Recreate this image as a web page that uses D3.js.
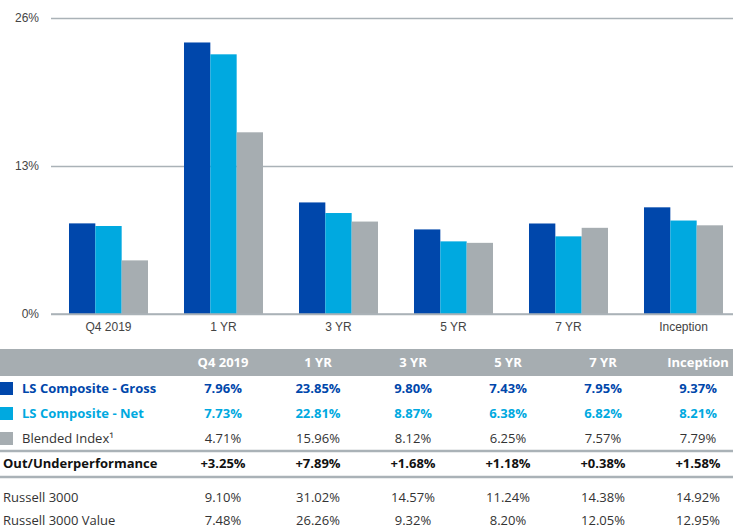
<!DOCTYPE html>
<html>
<head>
<meta charset="utf-8">
<script src="https://cdn.jsdelivr.net/npm/d3@7"></script>
<style>
  body { margin: 0; background: #fff; }
  svg { display: block; font-family: "Open Sans", "Noto Sans", sans-serif; }
</style>
</head>
<body>
<svg id="chart" width="733" height="529"></svg>
<script>
// periods shown in chart and table
var periods = ['Q4 2019', '1 YR', '3 YR', '5 YR', '7 YR', 'Inception']
var yTicks = [0, 13, 26]

var gross = [7.96, 23.85, 9.80, 7.43, 7.95, 9.37]
var net = [7.73, 22.81, 8.87, 6.38, 6.82, 8.21]
var blended = [4.71, 15.96, 8.12, 6.25, 7.57, 7.79]
var outUnder = ['+3.25%', '+7.89%', '+1.68%', '+1.18%', '+0.38%', '+1.58%']
var russell3000 = [9.10, 31.02, 14.57, 11.24, 14.38, 14.92]
var russell3000Value = [7.48, 26.26, 9.32, 8.20, 12.05, 12.95]

var seriesNames = ['LS Composite - Gross', 'LS Composite - Net', 'Blended Index\u00b9']
var colors = ['#0047ab', '#00a9e0', '#a6adb1']
var grid = '#aab2b7'

function pct(v) { return v.toFixed(2) + '%' }

var svg = d3.select('#chart')

/* ---- bar chart ---- */
var y = d3.scaleLinear().domain([0, 26]).range([314, 18])

var x0 = d3.scaleBand()
    .domain(periods)
    .range([51, 741])
    .paddingInner(0.313)
    .paddingOuter(0.1565)

var x1 = d3.scaleBand()
    .domain([0, 1, 2])
    .range([0, x0.bandwidth()])

// gridlines + tick labels
var yAxis = d3.axisLeft(y)
    .tickValues(yTicks)
    .tickSize(-700)
    .tickFormat(function (d) { return d + '%' })

var gy = svg.append('g')
    .attr('transform', 'translate(51,0)')
    .call(yAxis)
gy.select('.domain').remove()
gy.selectAll('line').attr('stroke', grid).attr('stroke-width', 1.5)
gy.selectAll('text')
    .attr('x', -12)
    .attr('fill', '#444')
    .style('font-size', '12px')

var data = periods.map(function (p, i) {
    return { name: p, vals: [gross[i], net[i], blended[i]] }
})

var groups = svg.selectAll('.grp')
    .data(data)
    .enter()
    .append('g')
    .attr('class', 'grp')
    .attr('transform', function (d) { return 'translate(' + x0(d.name) + ',0)' })

groups.selectAll('rect')
    .data(function (d) { return d.vals })
    .enter()
    .append('rect')
    .attr('x', function (d, i) { return x1(i) })
    .attr('width', x1.bandwidth())
    .attr('y', function (d) { return y(d) })
    .attr('height', function (d) { return y(0) - y(d) })
    .attr('fill', function (d, i) { return colors[i] })

// baseline on top of bars
svg.append('line')
    .attr('x1', 51).attr('x2', 733)
    .attr('y1', y(0)).attr('y2', y(0))
    .attr('stroke', grid).attr('stroke-width', 1.5)

// category labels
var xAxis = d3.axisBottom(x0).tickSize(0)
var gx = svg.append('g')
    .attr('transform', 'translate(0,' + y(0) + ')')
    .call(xAxis)
gx.select('.domain').remove()
gx.selectAll('text')
    .attr('dy', '1.2em')
    .attr('fill', '#444')
    .style('font-size', '12px')

/* ---- table ---- */
var colX = d3.scalePoint()
    .domain(periods)
    .range([223, 698])

svg.append('rect')
    .attr('x', 0).attr('y', 349)
    .attr('width', 733).attr('height', 27)
    .attr('fill', '#a6adb1')

svg.selectAll('.hdr')
    .data(periods)
    .enter()
    .append('text')
    .attr('class', 'hdr')
    .attr('x', function (d) { return colX(d) })
    .attr('y', 367)
    .attr('text-anchor', 'middle')
    .attr('fill', '#fff')
    .style('font-size', '13px')
    .style('font-weight', 'bold')
    .text(function (d) { return d })

var rows = [
    { label: seriesNames[0], vals: gross.map(pct), y: 393, color: colors[0], bold: true, swatch: colors[0] },
    { label: seriesNames[1], vals: net.map(pct), y: 418, color: colors[1], bold: true, swatch: colors[1] },
    { label: seriesNames[2], vals: blended.map(pct), y: 443, color: '#333', bold: false, swatch: colors[2] },
    { label: 'Out/Underperformance', vals: outUnder, y: 468, color: '#111', bold: true },
    { label: 'Russell 3000', vals: russell3000.map(pct), y: 502, color: '#333', bold: false },
    { label: 'Russell 3000 Value', vals: russell3000Value.map(pct), y: 525, color: '#333', bold: false }
]

rows.forEach(function (r) {
    var g = svg.append('g')
    if (r.swatch) {
        g.append('rect')
            .attr('x', 0).attr('y', r.y - 11)
            .attr('width', 13).attr('height', 13)
            .attr('fill', r.swatch)
    }
    g.append('text')
        .attr('x', r.swatch ? 22 : 3)
        .attr('y', r.y)
        .attr('fill', r.color)
        .style('font-size', '13px')
        .style('font-weight', r.bold ? 'bold' : 'normal')
        .text(r.label)
    g.selectAll('.v')
        .data(r.vals)
        .enter()
        .append('text')
        .attr('x', function (d, i) { return colX(periods[i]) })
        .attr('y', r.y)
        .attr('text-anchor', 'middle')
        .attr('fill', r.color)
        .style('font-size', '13px')
        .style('font-weight', r.bold ? 'bold' : 'normal')
        .text(function (d) { return d })
})

// separators around out/underperformance row
svg.selectAll('.sep')
    .data([451, 477])
    .enter()
    .append('line')
    .attr('x1', 0).attr('x2', 733)
    .attr('y1', function (d) { return d }).attr('y2', function (d) { return d })
    .attr('stroke', grid).attr('stroke-width', 2.5)
</script>
</body>
</html>
